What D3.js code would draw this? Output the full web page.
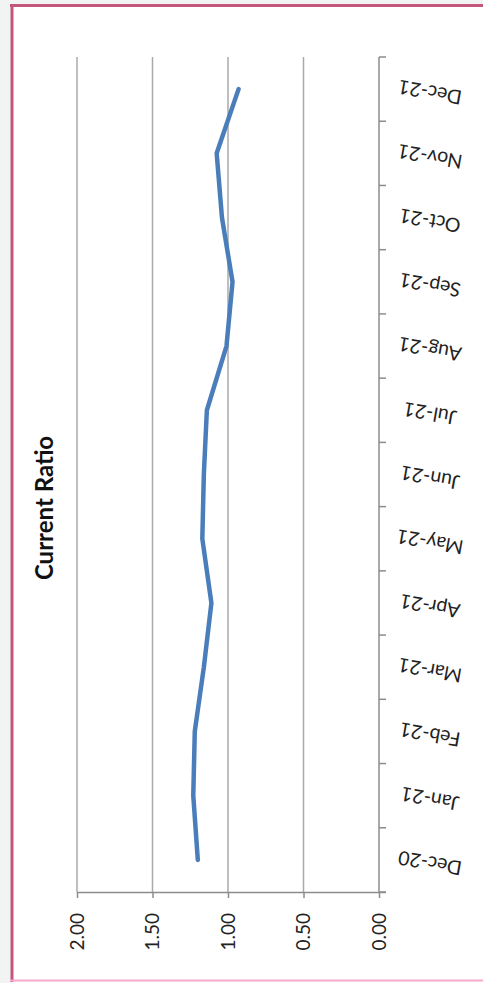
<!DOCTYPE html>
<html>
<head>
<meta charset="utf-8">
<script src="https://cdn.jsdelivr.net/npm/d3@7/dist/d3.min.js"></script>
<style>
  html, body { margin: 0; padding: 0; background: #ffffff; }
  svg { display: block; }
</style>
</head>
<body>
<svg id="chart" width="483" height="983"></svg>
<script>
// Monthly current ratio, Dec-20 through Dec-21
const categories = ["Dec-20", "Jan-21", "Feb-21", "Mar-21", "Apr-21", "May-21", "Jun-21",
                    "Jul-21", "Aug-21", "Sep-21", "Oct-21", "Nov-21", "Dec-21"];
const currentRatio = [1.20, 1.23, 1.22, 1.16, 1.11, 1.17, 1.16, 1.14, 1.01, 0.97, 1.04, 1.075, 0.93];
const valueTicks = [0, 0.5, 1.0, 1.5, 2.0];
const title = "Current Ratio";

const svg = d3.select("#chart");
const W = 483, H = 983;

// Outer page strip and chart frame
svg.append("rect").attr("x", 0).attr("y", 0).attr("width", W).attr("height", H).attr("fill", "#f2f4f4");
svg.append("rect").attr("x", 12).attr("y", 6).attr("width", W - 12).attr("height", H - 6).attr("fill", "#ffffff");
svg.append("line").attr("x1", 12).attr("x2", 12).attr("y1", 4).attr("y2", 982)
  .attr("stroke", "#c4567e").attr("stroke-width", 3);
svg.append("line").attr("x1", 10).attr("x2", W).attr("y1", 5.5).attr("y2", 5.5)
  .attr("stroke", "#c4567e").attr("stroke-width", 3);
svg.append("line").attr("x1", 10).attr("x2", W).attr("y1", 980.5).attr("y2", 980.5)
  .attr("stroke", "#f7a9cb").attr("stroke-width", 2);

// Plot area: values run right-to-left, months bottom-to-top
const plot = { left: 77, right: 379, top: 57, bottom: 892 };
const x = d3.scaleLinear().domain([0, 2]).range([plot.right, plot.left]);
const y = d3.scaleBand().domain(categories).range([plot.bottom, plot.top]).padding(0);

// Gridlines
svg.append("g").selectAll("line").data(valueTicks.filter(v => v > 0)).join("line")
  .attr("x1", d => x(d)).attr("x2", d => x(d))
  .attr("y1", plot.top).attr("y2", plot.bottom)
  .attr("stroke", "#aaaaaa").attr("stroke-width", 1.5);

// Value axis along the bottom
const valueAxis = d3.axisBottom(x).tickValues(valueTicks).tickFormat(d3.format(".2f"))
  .tickSize(6).tickSizeOuter(0);
const gv = svg.append("g").attr("transform", `translate(0,${plot.bottom})`).call(valueAxis);
gv.select(".domain").attr("stroke", "#8c8c8c").attr("stroke-width", 1.5)
  .attr("d", `M${plot.left},0.5H${plot.right + 7}`);
gv.selectAll(".tick line").attr("stroke", "#8c8c8c").attr("stroke-width", 1.5);
gv.selectAll(".tick text")
  .attr("font-family", "Lato, 'Open Sans', sans-serif")
  .attr("font-size", 19).attr("fill", "#222")
  .attr("text-anchor", "end").attr("dy", null).attr("y", null)
  .attr("transform", "translate(6,21) rotate(-90)");

// Category axis on the right (value = 0)
svg.append("line").attr("x1", plot.right).attr("x2", plot.right)
  .attr("y1", plot.top).attr("y2", plot.bottom)
  .attr("stroke", "#8c8c8c").attr("stroke-width", 1.5);
const boundaries = categories.map(c => y(c)).concat([plot.bottom]);
svg.append("g").selectAll("line").data(boundaries).join("line")
  .attr("x1", plot.right).attr("x2", plot.right + 7)
  .attr("y1", d => d).attr("y2", d => d)
  .attr("stroke", "#8c8c8c").attr("stroke-width", 1.5);
svg.append("g").selectAll("text").data(categories).join("text")
  .attr("transform", c => `translate(${plot.right + 51},${y(c) + y.bandwidth() / 2 + 3}) rotate(190)`)
  .attr("text-anchor", "middle").attr("dy", "0.35em")
  .attr("font-family", "Lato, 'Open Sans', sans-serif")
  .attr("font-size", 19.5).attr("fill", "#222")
  .text(c => c);

// Series line
const line = d3.line()
  .x((d) => x(d))
  .y((d, i) => y(categories[i]) + y.bandwidth() / 2);
svg.append("path").datum(currentRatio)
  .attr("d", line)
  .attr("fill", "none").attr("stroke", "#4a7ebb").attr("stroke-width", 4.5)
  .attr("stroke-linejoin", "round").attr("stroke-linecap", "round");

// Chart title
svg.append("text")
  .attr("transform", "translate(53,508) rotate(-90)")
  .attr("text-anchor", "middle")
  .attr("font-family", "Lato, 'Open Sans', sans-serif")
  .attr("font-weight", "bold").attr("font-size", 24).attr("fill", "#111")
  .text(title);
</script>
</body>
</html>
